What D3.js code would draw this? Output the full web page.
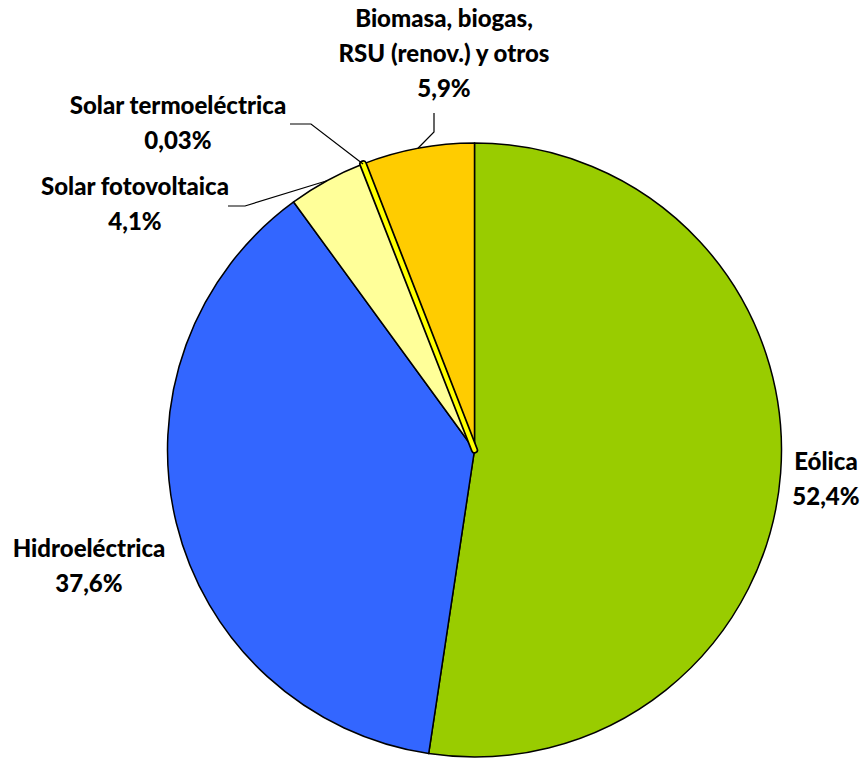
<!DOCTYPE html>
<html>
<head>
<meta charset="utf-8">
<script src="https://cdn.jsdelivr.net/npm/d3@7"></script>
<style>
  html, body { margin: 0; padding: 0; background: #fff; }
  svg { display: block; }
  text { font-family: Lato, "Open Sans", sans-serif; font-weight: 900; fill: #000; }
</style>
</head>
<body>
<svg id="chart" width="862" height="759"></svg>
<script>
// Renewable generation mix (% share)
const categories = ["Eólica", "Hidroeléctrica", "Solar fotovoltaica", "Solar termoeléctrica", "Biomasa, biogas, RSU (renov.) y otros"];
const values = [52.4, 37.6, 4.1, 0.03, 5.9];
const valueLabels = ["52,4%", "37,6%", "4,1%", "0,03%", "5,9%"];
const labelLines = [
  ["Eólica", "52,4%"],
  ["Hidroeléctrica", "37,6%"],
  ["Solar fotovoltaica", "4,1%"],
  ["Solar termoeléctrica", "0,03%"],
  ["Biomasa, biogas,", "RSU (renov.) y otros", "5,9%"]
];
const colors = ["#99CC00", "#3366FF", "#FFFF99", "#FFFF00", "#FFCC00"];

const svg = d3.select("#chart");
const cx = 474.5, cy = 450, radius = 307;

const pie = d3.pie().sort(null).value(d => d.value);
const arcs = pie(categories.map((c, i) => ({ name: c, value: values[i], color: colors[i] })));
const arc = d3.arc().innerRadius(0).outerRadius(radius);

const g = svg.append("g").attr("transform", `translate(${cx},${cy})`);

g.selectAll("path.slice")
  .data(arcs)
  .join("path")
  .attr("class", "slice")
  .attr("d", arc)
  .attr("fill", d => d.data.color)
  .attr("stroke", "#000")
  .attr("stroke-width", 1.5)
  .attr("stroke-linejoin", "round");

// Very thin slice: thicken it so its fill stays visible between the borders
const thin = arcs.filter(d => (d.endAngle - d.startAngle) < 0.01);
g.selectAll("path.thinEdge").data(thin).join("path")
  .attr("d", arc).attr("fill", "none")
  .attr("stroke", "#000").attr("stroke-width", 7.5).attr("stroke-linejoin", "round");
g.selectAll("path.thinFill").data(thin).join("path")
  .attr("d", arc).attr("fill", "none")
  .attr("stroke", d => d.data.color).attr("stroke-width", 4).attr("stroke-linejoin", "round");

// Label placement (centre x, first line y) and leader lines
const labelPos = [
  { x: 826, y: 464 },
  { x: 89, y: 551 },
  { x: 135, y: 189 },
  { x: 178, y: 108 },
  { x: 444, y: 21 }
];
const lineGap = 35;
const leaders = [
  null,
  null,
  [[228, 206], [245, 206]],
  [[290, 124], [311, 124]],
  [[434, 113], [434, 132]]
];

arcs.forEach((d, i) => {
  const p = labelPos[i];
  const t = svg.append("text")
    .attr("text-anchor", "middle")
    .attr("font-size", 24);
  labelLines[i].forEach((s, k) => {
    t.append("tspan").attr("x", p.x).attr("y", p.y + k * lineGap)
      .attr("dominant-baseline", "middle").text(s);
  });
  if (leaders[i]) {
    // end the leader on the slice's outer edge at its mid-angle
    const a = (d.startAngle + d.endAngle) / 2;
    const end = [cx + radius * Math.sin(a), cy - radius * Math.cos(a)];
    const pts = leaders[i].concat([end]);
    svg.append("path")
      .attr("d", d3.line()(pts))
      .attr("fill", "none")
      .attr("stroke", "#000")
      .attr("stroke-width", 1.2);
  }
});
</script>
</body>
</html>
